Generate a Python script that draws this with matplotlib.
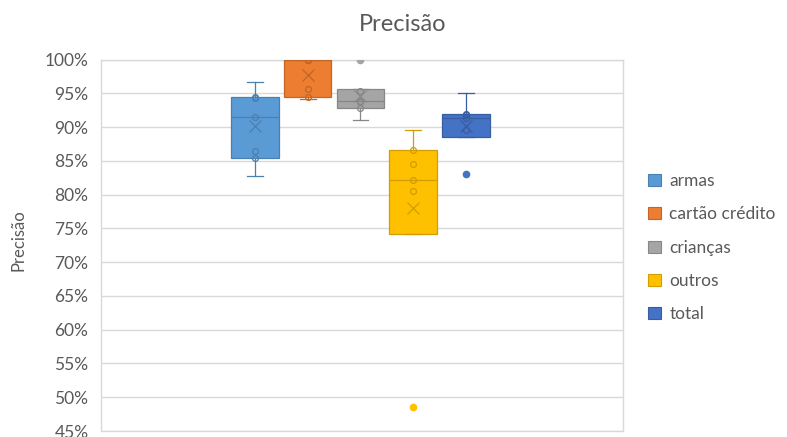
import numpy as np
import matplotlib
matplotlib.use("Agg")
import matplotlib.pyplot as plt
from matplotlib.patches import Patch
from matplotlib.ticker import PercentFormatter
from matplotlib.colors import to_rgb

# valores (precisao por categoria, 7 amostras cada)
series_names = ["armas", "cartão crédito", "crianças", "outros", "total"]
armas = [0.827, 0.855, 0.864, 0.915, 0.943, 0.944, 0.967]
cartao_credito = [0.942, 0.944, 0.957, 1.0, 1.0, 1.0, 1.0]
criancas = [0.910, 0.929, 0.937, 0.938, 0.953, 0.957, 1.0]
outros = [0.485, 0.742, 0.806, 0.822, 0.846, 0.866, 0.896]
total = [0.831, 0.886, 0.8955, 0.914, 0.918, 0.919, 0.951]
series_colors = ["#5B9BD5", "#ED7D31", "#A5A5A5", "#FFC000", "#4472C4"]
y_ticks = [0.45, 0.50, 0.55, 0.60, 0.65, 0.70, 0.75, 0.80, 0.85, 0.90, 0.95, 1.00]

TEXT = "#595959"
GRID = "#D9D9D9"
plt.rcParams["font.family"] = ["Lato", "DejaVu Sans"]


def darker(c, f=0.82):
    r, g, b = to_rgb(c)
    return (r * f, g * f, b * f)


def excel_stats(data):
    """Quartis exclusivos (como o Excel) + whiskers 1.5*IQR."""
    d = np.sort(np.asarray(data, dtype=float))
    q1, med, q3 = np.percentile(d, [25, 50, 75], method="weibull")
    iqr = q3 - q1
    inside = d[(d >= q1 - 1.5 * iqr) & (d <= q3 + 1.5 * iqr)]
    return {
        "q1": q1, "med": med, "q3": q3,
        "whislo": inside.min(), "whishi": inside.max(),
        "mean": d.mean(),
        "fliers": d[(d < inside.min()) | (d > inside.max())],
        "inner": list(inside[1:-1]),
    }


all_data = [armas, cartao_credito, criancas, outros, total]

fig = plt.figure(figsize=(7.87, 4.37), dpi=100)
ax = fig.add_axes([0.1283, 0.0137, 0.6633, 0.8499])

for i, (data, col) in enumerate(zip(all_data, series_colors)):
    pos = i + 1
    st = excel_stats(data)
    edge = darker(col)
    ax.bxp([st], positions=[pos], widths=0.9, patch_artist=True,
           showmeans=True, showfliers=True,
           boxprops=dict(facecolor=col, edgecolor=edge, linewidth=0.9),
           medianprops=dict(color=edge, linewidth=0.9),
           whiskerprops=dict(color=edge, linewidth=0.9),
           capprops=dict(color=edge, linewidth=0.9),
           capwidths=0.3,
           meanprops=dict(marker="x", markeredgecolor=edge, markersize=8,
                          markeredgewidth=0.9),
           flierprops=dict(marker="o", markerfacecolor=col, markeredgecolor=col,
                           markersize=4.5),
           zorder=3)
    # pontos internos (circulos vazados)
    ax.plot([pos] * len(st["inner"]), st["inner"], linestyle="none", marker="o",
            markersize=4.2, markerfacecolor="none", markeredgecolor=edge,
            markeredgewidth=0.9, zorder=4)

ax.set_xlim(-1.919, 7.976)
ax.set_ylim(0.45, 1.0)
ax.set_yticks(y_ticks)
ax.yaxis.set_major_formatter(PercentFormatter(1.0, decimals=0))
ax.set_xticks([])
ax.tick_params(axis="y", length=0, pad=9, labelsize=12.5, labelcolor=TEXT)
ax.grid(axis="y", color=GRID, linewidth=1, zorder=0)
for s in ax.spines.values():
    s.set_color(GRID)
    s.set_linewidth(1)

fig.text(0.511, 0.943, "Precisão", ha="center", va="center", fontsize=17, color=TEXT)
fig.text(0.023, 0.451, "Precisão", ha="center", va="center", rotation=90,
         fontsize=12, color=TEXT)

handles = [Patch(facecolor=c, edgecolor=darker(c), linewidth=0.8) for c in series_colors]
fig.legend(handles, series_names, loc="upper left", bbox_to_anchor=(0.815, 0.62),
           frameon=False, fontsize=12.5, labelcolor=TEXT,
           handlelength=0.7, handleheight=0.7, handletextpad=0.5,
           labelspacing=1.0, borderaxespad=0)

fig.savefig("out.png", dpi=100)
